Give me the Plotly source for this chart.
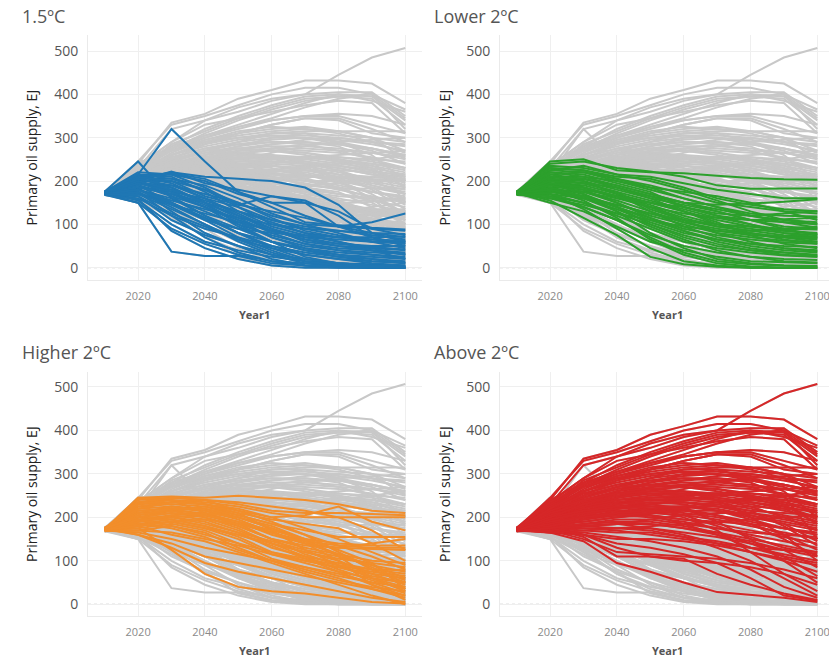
import plotly.graph_objects as go

years = [2010, 2020, 2030, 2040, 2050, 2060, 2070, 2080, 2090, 2100]

panel_titles = ["1.5ºC", "Lower 2ºC", "Higher 2ºC", "Above 2ºC"]
panel_colors = ["#1F77B4", "#2CA02C", "#F28E2B", "#D62728"]

# Primary oil supply (EJ) per scenario at 10-year steps
c15 = [
    [172, 215, 320, 245, 175, 150, 120, 95, 80, 70],
    [175, 245, 160, 120, 90, 60, 40, 25, 15, 10],
    [170, 150, 37, 27, 27, 10, 5, 3, 2, 0],
    [172, 205, 220, 210, 205, 200, 185, 145, 80, 60],
    [174, 210, 215, 200, 170, 150, 150, 95, 105, 125],
    [170, 200, 222, 195, 180, 165, 155, 120, 70, 50],
    [176, 212, 218, 205, 175, 140, 105, 98, 92, 88],
    [171, 195, 190, 170, 150, 120, 100, 95, 90, 85],
    [168, 185, 175, 160, 140, 110, 90, 85, 80, 78],
    [173, 200, 200, 180, 140, 100, 80, 70, 70, 72],
    [170, 190, 170, 140, 110, 85, 70, 65, 60, 60],
    [175, 205, 185, 150, 120, 90, 60, 50, 45, 40],
    [172, 180, 160, 130, 100, 75, 55, 45, 40, 35],
    [169, 170, 150, 115, 80, 60, 40, 30, 25, 20],
    [171, 160, 120, 90, 70, 50, 35, 25, 20, 15],
    [174, 155, 100, 60, 40, 25, 15, 10, 8, 5],
    [170, 165, 110, 75, 50, 30, 20, 10, 5, 0],
    [173, 175, 140, 100, 60, 30, 10, 2, 0, 0],
    [176, 190, 150, 110, 70, 40, 15, 5, 0, 0],
    [172, 200, 165, 120, 80, 50, 30, 20, 10, 5],
    [170, 185, 130, 80, 50, 20, 5, 0, 0, 0],
    [168, 158, 85, 45, 20, 5, 0, 0, 0, 0],
    [175, 210, 195, 160, 125, 90, 70, 55, 50, 50],
    [171, 195, 180, 155, 130, 110, 95, 85, 75, 65],
    [173, 205, 205, 190, 160, 125, 100, 80, 60, 45],
    [169, 180, 155, 135, 115, 100, 90, 75, 65, 58],
    [174, 215, 210, 175, 130, 95, 75, 60, 45, 30],
    [172, 170, 145, 125, 105, 85, 65, 50, 40, 30],
    [170, 190, 165, 140, 95, 60, 45, 35, 30, 25],
    [176, 200, 175, 145, 110, 70, 50, 40, 35, 32],
    [171, 165, 125, 95, 65, 45, 30, 20, 15, 12],
    [173, 210, 200, 165, 145, 130, 115, 95, 70, 55],
    [170, 175, 120, 70, 35, 15, 5, 2, 1, 0],
    [174, 195, 185, 150, 100, 60, 25, 10, 5, 2],
    [172, 185, 170, 150, 130, 105, 80, 60, 40, 20],
    [168, 150, 90, 55, 30, 15, 10, 8, 5, 3],
    [175, 220, 215, 185, 145, 165, 150, 130, 90, 75],
    [171, 180, 145, 110, 90, 80, 75, 70, 65, 62],
    [173, 195, 175, 140, 105, 70, 45, 30, 20, 10],
    [170, 180, 150, 115, 80, 45, 20, 10, 5, 3],
    [175, 215, 205, 180, 150, 115, 85, 70, 60, 55],
    [172, 200, 180, 150, 115, 80, 55, 40, 30, 22],
    [169, 170, 135, 100, 65, 35, 15, 5, 2, 0],
    [174, 205, 190, 160, 120, 85, 65, 55, 48, 42],
]

lower2 = [
    [172, 245, 250, 225, 220, 218, 212, 207, 204, 203],
    [174, 240, 245, 230, 222, 210, 190, 182, 183, 183],
    [170, 225, 235, 215, 210, 195, 180, 170, 160, 160],
    [173, 230, 225, 210, 205, 185, 160, 145, 135, 130],
    [171, 215, 220, 205, 190, 170, 150, 140, 130, 125],
    [175, 210, 210, 200, 180, 160, 140, 125, 120, 118],
    [169, 200, 205, 190, 170, 150, 135, 120, 110, 105],
    [172, 220, 215, 195, 175, 140, 120, 110, 105, 100],
    [176, 205, 200, 180, 160, 145, 130, 110, 95, 90],
    [170, 195, 190, 170, 150, 130, 110, 95, 85, 80],
    [173, 185, 185, 165, 145, 120, 100, 90, 80, 75],
    [171, 200, 195, 175, 135, 110, 95, 85, 75, 70],
    [168, 180, 175, 155, 130, 105, 85, 75, 70, 65],
    [174, 190, 180, 150, 120, 100, 80, 70, 62, 60],
    [172, 175, 165, 140, 115, 90, 75, 65, 58, 55],
    [170, 170, 160, 135, 105, 80, 65, 55, 50, 48],
    [175, 210, 200, 170, 130, 95, 70, 55, 45, 40],
    [171, 185, 170, 140, 100, 70, 50, 40, 35, 30],
    [173, 165, 150, 120, 90, 60, 45, 35, 28, 25],
    [169, 160, 140, 110, 75, 50, 35, 25, 20, 18],
    [172, 150, 130, 95, 60, 40, 25, 15, 12, 10],
    [176, 195, 170, 130, 80, 45, 20, 10, 5, 3],
    [170, 180, 155, 115, 65, 30, 10, 3, 0, 0],
    [174, 155, 115, 75, 25, 8, 2, 0, 0, 0],
    [171, 170, 135, 90, 45, 15, 5, 0, 0, 0],
    [173, 205, 185, 160, 140, 125, 115, 110, 112, 115],
    [170, 190, 175, 160, 150, 140, 125, 120, 125, 130],
    [175, 215, 205, 185, 165, 150, 145, 148, 152, 158],
    [172, 200, 185, 165, 140, 115, 95, 85, 90, 95],
    [168, 185, 165, 145, 125, 105, 90, 80, 70, 60],
    [174, 225, 220, 200, 185, 175, 165, 150, 130, 110],
    [171, 175, 160, 145, 125, 110, 100, 95, 90, 88],
    [173, 195, 180, 165, 150, 130, 105, 75, 55, 45],
    [170, 160, 145, 125, 100, 75, 55, 40, 30, 25],
    [176, 235, 230, 215, 200, 180, 155, 130, 110, 100],
    [172, 205, 195, 175, 155, 135, 115, 100, 85, 78],
    [169, 180, 160, 130, 95, 65, 40, 25, 15, 12],
    [174, 200, 195, 185, 165, 140, 120, 100, 80, 70],
    [171, 190, 175, 150, 115, 85, 65, 50, 40, 35],
    [173, 170, 150, 125, 110, 95, 85, 78, 72, 68],
    [172, 210, 205, 185, 160, 130, 100, 80, 65, 55],
    [175, 220, 210, 190, 170, 150, 130, 110, 90, 75],
    [170, 195, 185, 165, 140, 110, 80, 60, 45, 38],
    [173, 180, 165, 140, 110, 85, 60, 45, 35, 28],
    [171, 165, 140, 110, 70, 35, 15, 8, 5, 4],
    [174, 230, 225, 205, 185, 160, 140, 120, 105, 92],
]

higher2 = [
    [172, 245, 248, 245, 250, 245, 240, 230, 215, 210],
    [174, 240, 245, 240, 230, 215, 210, 210, 208, 205],
    [170, 235, 240, 235, 225, 210, 200, 200, 200, 200],
    [173, 230, 235, 240, 215, 200, 205, 225, 190, 170],
    [171, 225, 230, 225, 205, 185, 170, 155, 155, 155],
    [175, 220, 225, 220, 200, 175, 150, 140, 135, 135],
    [169, 215, 220, 215, 195, 165, 145, 135, 130, 130],
    [172, 210, 215, 210, 190, 160, 140, 130, 127, 125],
    [176, 200, 210, 200, 180, 150, 130, 115, 100, 95],
    [170, 195, 205, 195, 170, 140, 120, 105, 95, 85],
    [173, 190, 200, 190, 165, 130, 110, 95, 80, 70],
    [171, 185, 195, 180, 155, 120, 100, 85, 70, 60],
    [168, 180, 190, 175, 150, 115, 95, 75, 60, 50],
    [174, 175, 185, 170, 140, 105, 85, 65, 50, 40],
    [172, 170, 180, 165, 130, 100, 75, 55, 40, 30],
    [170, 165, 150, 130, 115, 100, 85, 70, 50, 25],
    [175, 160, 140, 110, 95, 80, 65, 50, 35, 20],
    [171, 175, 125, 70, 40, 30, 25, 15, 5, 2],
    [173, 160, 130, 95, 75, 60, 45, 30, 15, 5],
    [169, 180, 160, 145, 120, 95, 70, 45, 20, 0],
    [172, 210, 225, 215, 200, 180, 150, 110, 60, 30],
    [176, 225, 235, 230, 215, 190, 160, 120, 80, 50],
    [170, 200, 215, 225, 210, 170, 125, 90, 60, 40],
    [174, 190, 200, 205, 185, 150, 115, 90, 75, 65],
    [171, 245, 240, 210, 180, 150, 135, 130, 140, 150],
    [173, 205, 215, 200, 175, 140, 110, 80, 55, 35],
    [170, 185, 190, 175, 160, 140, 120, 100, 70, 45],
    [175, 215, 220, 205, 185, 165, 140, 100, 45, 10],
    [172, 195, 180, 160, 140, 120, 105, 90, 80, 78],
    [169, 170, 165, 150, 135, 115, 100, 85, 65, 50],
    [174, 230, 240, 230, 210, 195, 185, 175, 140, 100],
    [171, 200, 200, 185, 165, 145, 125, 110, 90, 75],
    [173, 185, 175, 155, 125, 100, 80, 60, 35, 15],
    [172, 220, 235, 230, 220, 200, 175, 150, 120, 90],
    [174, 205, 220, 220, 205, 185, 160, 135, 110, 80],
    [170, 190, 205, 210, 200, 175, 145, 115, 85, 55],
    [173, 235, 245, 240, 235, 225, 215, 200, 170, 125],
    [171, 180, 190, 195, 185, 165, 140, 115, 90, 60],
    [175, 200, 210, 205, 190, 170, 150, 125, 95, 35],
    [169, 195, 195, 180, 160, 135, 105, 75, 45, 20],
]

above2 = [
    [172, 240, 335, 355, 390, 410, 432, 432, 425, 380],
    [174, 245, 330, 350, 375, 400, 415, 415, 400, 365],
    [170, 230, 320, 340, 360, 385, 400, 445, 485, 507],
    [173, 235, 290, 340, 370, 390, 400, 405, 405, 350],
    [171, 230, 280, 320, 350, 375, 395, 400, 395, 340],
    [175, 225, 285, 315, 345, 370, 390, 395, 390, 330],
    [169, 220, 275, 310, 340, 365, 385, 395, 400, 320],
    [172, 235, 290, 330, 345, 360, 375, 385, 380, 310],
    [176, 240, 280, 305, 330, 355, 380, 400, 385, 360],
    [170, 225, 270, 300, 325, 345, 370, 390, 400, 345],
    [173, 230, 275, 300, 320, 340, 350, 350, 330, 310],
    [171, 220, 265, 295, 310, 330, 345, 340, 310, 300],
    [168, 215, 260, 290, 305, 315, 320, 315, 315, 315],
    [174, 225, 270, 290, 300, 310, 310, 305, 300, 290],
    [172, 220, 260, 280, 295, 305, 305, 300, 290, 280],
    [170, 210, 250, 270, 285, 295, 300, 295, 285, 270],
    [175, 215, 255, 275, 285, 290, 290, 285, 275, 260],
    [171, 205, 245, 265, 275, 280, 280, 275, 265, 250],
    [173, 210, 240, 260, 270, 275, 270, 265, 255, 240],
    [169, 200, 235, 255, 265, 270, 265, 255, 245, 230],
    [172, 205, 230, 250, 260, 260, 255, 245, 235, 220],
    [176, 195, 225, 245, 255, 255, 245, 235, 225, 210],
    [170, 200, 220, 240, 245, 245, 240, 230, 215, 200],
    [174, 190, 215, 235, 240, 240, 235, 220, 205, 190],
    [171, 195, 210, 225, 235, 235, 225, 210, 195, 180],
    [173, 185, 205, 220, 225, 225, 215, 200, 185, 170],
    [170, 190, 200, 215, 220, 215, 205, 190, 175, 160],
    [175, 180, 195, 205, 210, 205, 195, 180, 165, 150],
    [172, 185, 190, 200, 205, 195, 185, 170, 155, 140],
    [169, 175, 185, 195, 195, 185, 175, 160, 145, 130],
    [174, 180, 180, 185, 185, 175, 165, 150, 135, 120],
    [171, 170, 175, 175, 175, 165, 155, 140, 125, 110],
    [173, 175, 170, 165, 165, 155, 145, 130, 115, 100],
    [170, 165, 160, 150, 150, 145, 135, 120, 105, 90],
    [175, 170, 150, 120, 115, 110, 105, 95, 80, 60],
    [172, 165, 145, 95, 75, 50, 28, 22, 15, 5],
    [168, 175, 155, 110, 110, 105, 70, 45, 25, 10],
    [174, 180, 160, 140, 130, 115, 95, 60, 20, 8],
    [171, 170, 165, 155, 145, 130, 110, 80, 40, 15],
    [173, 200, 230, 260, 280, 300, 310, 290, 260, 200],
    [170, 195, 220, 245, 270, 285, 290, 280, 250, 150],
    [176, 210, 245, 270, 290, 310, 315, 315, 300, 250],
    [172, 205, 235, 255, 265, 260, 240, 200, 160, 100],
    [169, 190, 210, 225, 230, 220, 190, 150, 100, 50],
    [174, 185, 200, 210, 215, 200, 170, 120, 70, 30],
    [171, 200, 215, 230, 245, 250, 255, 260, 265, 270],
    [173, 215, 240, 260, 275, 285, 295, 300, 290, 285],
    [170, 180, 190, 200, 210, 220, 230, 240, 250, 260],
    [175, 190, 200, 205, 200, 190, 175, 165, 160, 155],
    [172, 195, 210, 215, 205, 185, 160, 130, 110, 95],
    [168, 170, 180, 185, 175, 160, 140, 120, 100, 75],
    [174, 175, 185, 190, 190, 180, 165, 140, 110, 65],
    [171, 185, 195, 205, 215, 225, 235, 245, 240, 230],
    [173, 220, 255, 275, 290, 300, 300, 285, 270, 240],
    [170, 200, 225, 235, 240, 235, 225, 215, 210, 205],
    [176, 190, 205, 210, 205, 195, 190, 185, 175, 165],
    [172, 210, 250, 285, 310, 330, 345, 345, 320, 290],
    [169, 195, 215, 225, 220, 205, 180, 155, 130, 115],
    [174, 180, 175, 170, 160, 150, 140, 130, 125, 120],
    [171, 165, 170, 175, 180, 185, 190, 195, 200, 205],
    [173, 175, 160, 130, 110, 100, 95, 85, 70, 45],
    [170, 185, 180, 175, 170, 155, 130, 100, 60, 20],
    [175, 205, 225, 240, 250, 255, 255, 250, 240, 225],
    [172, 200, 210, 220, 230, 240, 250, 255, 250, 245],
    [171, 215, 245, 265, 280, 290, 285, 270, 250, 230],
    [173, 225, 260, 285, 300, 305, 300, 290, 275, 260],
    [170, 205, 235, 255, 270, 275, 275, 270, 265, 255],
    [175, 220, 250, 270, 275, 270, 260, 245, 225, 200],
    [172, 200, 225, 245, 255, 255, 250, 240, 230, 215],
    [169, 195, 220, 235, 245, 250, 255, 250, 235, 210],
    [174, 210, 235, 250, 255, 250, 240, 225, 200, 170],
    [171, 190, 210, 230, 240, 245, 240, 235, 225, 195],
    [173, 205, 225, 240, 250, 265, 280, 290, 295, 300],
    [170, 185, 205, 220, 230, 235, 230, 215, 180, 135],
    [176, 230, 270, 295, 315, 325, 320, 310, 290, 265],
    [172, 195, 215, 230, 235, 230, 215, 195, 175, 160],
    [168, 180, 195, 210, 220, 225, 220, 205, 185, 145],
    [174, 200, 215, 225, 225, 220, 205, 185, 150, 110],
    [171, 210, 230, 245, 260, 275, 285, 285, 275, 255],
    [173, 190, 200, 205, 210, 215, 215, 205, 190, 175],
    [170, 175, 180, 185, 195, 205, 210, 210, 200, 185],
    [175, 200, 230, 250, 265, 270, 265, 250, 230, 185],
    [172, 185, 200, 210, 215, 210, 200, 185, 160, 125],
    [169, 175, 185, 190, 185, 175, 160, 145, 125, 85],
    [174, 215, 240, 255, 260, 255, 245, 235, 220, 190],
    [171, 220, 260, 290, 310, 320, 325, 315, 300, 270],
    [173, 235, 275, 305, 325, 340, 350, 355, 350, 330],
    [170, 195, 210, 220, 225, 225, 225, 225, 220, 215],
]

groups = [c15, lower2, higher2, above2]

W, H = 829, 657
GRAY = "#C8C8C8"
FONT = "Open Sans"


def flatten(lines):
    xs, ys = [], []
    for ln in lines:
        xs += years + [None]
        ys += ln + [None]
    return xs, ys


all_lines = c15 + lower2 + higher2 + above2
gx, gy = flatten(all_lines)

# panel geometry in pixels: (left, right, top, bottom, xmax)
panels = [
    (88, 422, 35, 280, 2105),
    (500, 829, 35, 280, 2103.5),
    (88, 422, 372, 616, 2105),
    (500, 829, 372, 616, 2103.5),
]
yranges = [(-28.4, 537), (-28.4, 537), (-27, 534.5), (-27, 534.5)]

fig = go.Figure()
layout = dict(
    width=W, height=H, margin=dict(l=0, r=0, t=0, b=0),
    paper_bgcolor="white", plot_bgcolor="white", showlegend=False,
    font=dict(family=FONT), hovermode=False,
)
annotations = []
shapes = []
for i, (l, r, t, b, xmax) in enumerate(panels):
    k = "" if i == 0 else str(i + 1)
    xa, ya = "x" + k, "y" + k
    fig.add_trace(go.Scatter(x=gx, y=gy, mode="lines", xaxis=xa, yaxis=ya,
                             line=dict(color=GRAY, width=2), hoverinfo="skip"))
    cx, cy = flatten(groups[i])
    fig.add_trace(go.Scatter(x=cx, y=cy, mode="lines", xaxis=xa, yaxis=ya,
                             line=dict(color=panel_colors[i], width=2), hoverinfo="skip"))
    layout["xaxis" + k] = dict(
        domain=[l / W, r / W], range=[2005, xmax], anchor=ya,
        tickmode="linear", tick0=2020, dtick=20, showgrid=True, gridcolor="#EFEFEF",
        gridwidth=1, zeroline=False, showline=True, linecolor="#EAEAEA", linewidth=1,
        ticks="", ticklabelstandoff=6, ticklabeloverflow="allow",
        tickfont=dict(size=11, color="#8A8A8A", family=FONT),
    )
    layout["yaxis" + k] = dict(
        domain=[1 - b / H, 1 - t / H], range=list(yranges[i]), anchor=xa,
        tickmode="linear", tick0=0, dtick=100, showgrid=True, gridcolor="#EFEFEF",
        gridwidth=1, zeroline=False, showline=True, linecolor="#EAEAEA", linewidth=1,
        ticks="", ticklabelstandoff=6,
        tickfont=dict(size=14, color="#555555", family=FONT),
    )
    shapes.append(dict(type="line", xref=xa + " domain", yref=ya, x0=0, x1=1, y0=0, y1=0,
                       line=dict(color="#BBBBBB", width=1, dash="dot"), layer="below"))
    # panel title
    tx = 20 if l < 400 else 432
    ty = 16 if t < 300 else 352
    annotations.append(dict(text=panel_titles[i], xref="paper", yref="paper",
                            x=tx / W, y=1 - ty / H, xanchor="left", yanchor="middle",
                            showarrow=False, font=dict(size=18, color="#555555", family=FONT)))
    # y-axis title
    yx = 31 if l < 400 else 444
    annotations.append(dict(text="Primary oil supply, EJ", xref="paper", yref="paper",
                            x=yx / W, y=1 - ((t + b) / 2) / H, textangle=-90,
                            xanchor="center", yanchor="middle", showarrow=False,
                            font=dict(size=14, color="#222222", family=FONT)))
    # x-axis title
    xx = 255 if l < 400 else 667
    xy = 314 if t < 300 else 650
    annotations.append(dict(text="<b>Year1</b>", xref="paper", yref="paper",
                            x=xx / W, y=1 - xy / H, xanchor="center", yanchor="middle",
                            showarrow=False, font=dict(size=11, color="#555555", family=FONT)))

layout["annotations"] = annotations
layout["shapes"] = shapes
fig.update_layout(**layout)
fig.write_html("out.html")
